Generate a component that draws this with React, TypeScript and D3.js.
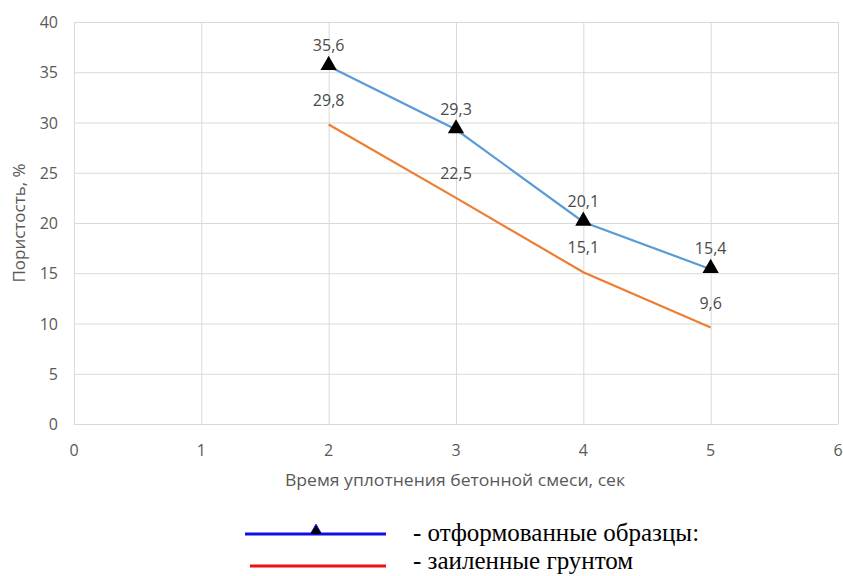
import * as d3 from "d3";
import { useEffect, useRef } from "react";

const times = [2, 3, 4, 5];
const moulded = [35.6, 29.3, 20.1, 15.4];
const silted = [29.8, 22.5, 15.1, 9.6];
const xTicks = [0, 1, 2, 3, 4, 5, 6];
const yTicks = [0, 5, 10, 15, 20, 25, 30, 35, 40];

const W = 843;
const H = 576;

export default function App() {
  const svgRef = useRef<SVGSVGElement | null>(null);

  useEffect(() => {
    document.body.style.margin = "0";
    const svg = d3.select(svgRef.current);
    svg.selectAll("*").remove();

    const margin = { left: 74, right: 5, top: 22, bottom: 152 };
    const x = d3.scaleLinear().domain([0, 6]).range([margin.left, W - margin.right]);
    const y = d3.scaleLinear().domain([0, 40]).range([H - margin.bottom, margin.top]);
    const font = "'Open Sans', sans-serif";

    // grid
    const grid = svg.append("g").attr("stroke", "#d9d9d9").attr("stroke-width", 1);
    grid
      .selectAll("line.h")
      .data(yTicks)
      .join("line")
      .attr("x1", x(0))
      .attr("x2", x(6))
      .attr("y1", (d) => y(d) + 0.5)
      .attr("y2", (d) => y(d) + 0.5);
    grid
      .selectAll("line.v")
      .data(xTicks)
      .join("line")
      .attr("class", "v")
      .attr("y1", y(0))
      .attr("y2", y(40))
      .attr("x1", (d) => x(d) + 0.5)
      .attr("x2", (d) => x(d) + 0.5);

    // tick labels
    svg
      .append("g")
      .selectAll("text")
      .data(yTicks)
      .join("text")
      .attr("x", x(0) - 16)
      .attr("y", (d) => y(d) + 6)
      .attr("text-anchor", "end")
      .attr("font-family", font)
      .attr("font-size", 16)
      .attr("fill", "#595959")
      .text((d) => d);
    svg
      .append("g")
      .selectAll("text")
      .data(xTicks)
      .join("text")
      .attr("x", (d) => x(d))
      .attr("y", y(0) + 32)
      .attr("text-anchor", "middle")
      .attr("font-family", font)
      .attr("font-size", 16)
      .attr("fill", "#595959")
      .text((d) => d);

    // axis titles
    svg
      .append("text")
      .attr("x", 455)
      .attr("y", 486)
      .attr("text-anchor", "middle")
      .attr("font-family", font)
      .attr("font-size", 17)
      .attr("textLength", 340)
      .attr("lengthAdjust", "spacingAndGlyphs")
      .attr("fill", "#595959")
      .text("Время уплотнения бетонной смеси, сек");
    svg
      .append("text")
      .attr("transform", `translate(25,${(y(0) + y(40)) / 2}) rotate(-90)`)
      .attr("text-anchor", "middle")
      .attr("font-family", font)
      .attr("font-size", 17)
      .attr("fill", "#595959")
      .text("Пористость, %");

    const line = d3
      .line<number>()
      .x((_, i) => x(times[i]))
      .y((d) => y(d));

    svg
      .append("path")
      .datum(silted)
      .attr("d", line)
      .attr("fill", "none")
      .attr("stroke", "#ed7d31")
      .attr("stroke-width", 2.2);
    svg
      .append("path")
      .datum(moulded)
      .attr("d", line)
      .attr("fill", "none")
      .attr("stroke", "#5b9bd5")
      .attr("stroke-width", 2.2);

    const tri = d3.symbol().type(d3.symbolTriangle).size(115);
    svg
      .append("g")
      .selectAll("path")
      .data(moulded)
      .join("path")
      .attr("d", tri)
      .attr("transform", (d, i) => `translate(${x(times[i])},${y(d) - 1})`)
      .attr("fill", "#000");

    const labels = (vals: number[], dy: number) =>
      svg
        .append("g")
        .selectAll("text")
        .data(vals)
        .join("text")
        .attr("x", (_, i) => x(times[i]))
        .attr("y", (d) => y(d) + dy)
        .attr("text-anchor", "middle")
        .attr("font-family", font)
        .attr("font-size", 16)
        .attr("fill", "#4a4a4a")
        .text((d) => d.toFixed(1).replace(".", ","));
    labels(moulded, -15);
    labels(silted, -19);

    // legend
    const lg = svg.append("g");
    lg.append("line")
      .attr("x1", 245)
      .attr("x2", 386)
      .attr("y1", 534)
      .attr("y2", 534)
      .attr("stroke", "#1010e0")
      .attr("stroke-width", 3);
    lg.append("path")
      .attr("d", d3.symbol().type(d3.symbolTriangle).size(60))
      .attr("transform", "translate(316,531)")
      .attr("fill", "#000")
      .attr("stroke", "#1010e0")
      .attr("stroke-width", 1);
    lg.append("line")
      .attr("x1", 250)
      .attr("x2", 386)
      .attr("y1", 566)
      .attr("y2", 566)
      .attr("stroke", "#ee1111")
      .attr("stroke-width", 3);
    lg.append("text")
      .attr("x", 413)
      .attr("y", 541)
      .attr("font-family", "'Liberation Serif', serif")
      .attr("font-size", 25)
      .attr("fill", "#000")
      .text("- отформованные образцы:");
    lg.append("text")
      .attr("x", 413)
      .attr("y", 569)
      .attr("font-family", "'Liberation Serif', serif")
      .attr("font-size", 25)
      .attr("fill", "#000")
      .text("- заиленные грунтом");
  }, []);

  return <svg ref={svgRef} width={W} height={H} style={{ display: "block", background: "#fff" }} />;
}
